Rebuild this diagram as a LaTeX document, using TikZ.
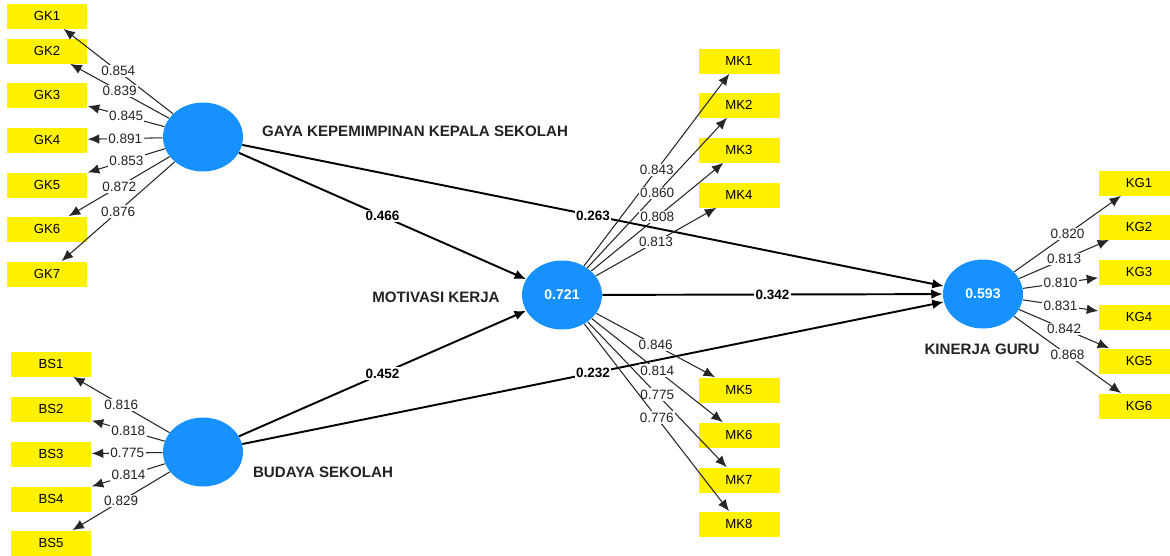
\documentclass[tikz,border=0pt]{standalone}
\usepackage{fontspec}
\setmainfont{Liberation Sans}
\usetikzlibrary{shapes.geometric,arrows.meta}
\definecolor{lvblue}{RGB}{22,145,255}
\definecolor{txtgray}{RGB}{35,35,35}
\begin{document}
\begin{tikzpicture}[x=0.02cm,y=-0.02cm,>={Latex[length=6.5pt,width=5.5pt]},
  lv/.style={ellipse,fill=lvblue,minimum width=1.6cm,minimum height=1.38cm,inner sep=0pt,text=white,font=\fontsize{8}{9}\selectfont\bfseries},
  ind/.style={rectangle,fill=yellow,minimum width=1.62cm,minimum height=0.5cm,inner sep=0pt,font=\fontsize{7.5}{9}\selectfont},
  ldg/.style={->,draw=black!85,line width=0.6pt},
  coef/.style={->,line width=1.1pt},
  wt/.style={fill=white,inner sep=0.8pt,text=txtgray,font=\fontsize{7.7}{9}\selectfont},
  bwt/.style={fill=white,inner sep=0.8pt,font=\fontsize{7.7}{9}\selectfont\bfseries},
  lvname/.style={text=txtgray,font=\fontsize{8.6}{10}\selectfont\bfseries}]
\useasboundingbox (0,0) rectangle (1170,555);

\node (gk) at (203,137)[lv]{};
\node (bs) at (203,452)[lv]{};
\node (mk) at (562,295)[lv]{0.721};
\node (kg) at (983,294)[lv]{0.593};

\node at (415,131)[lvname]{GAYA KEPEMIMPINAN KEPALA SEKOLAH};
\node at (436,297)[lvname]{MOTIVASI KERJA};
\node at (323,472)[lvname]{BUDAYA SEKOLAH};
\node at (982,349)[lvname]{KINERJA GURU};

\node (gk1) at (47,16)[ind]{GK1};
\node (gk2) at (47,51)[ind]{GK2};
\node (gk3) at (47,95)[ind]{GK3};
\node (gk4) at (47,140)[ind]{GK4};
\node (gk5) at (47,185)[ind]{GK5};
\node (gk6) at (47,229)[ind]{GK6};
\node (gk7) at (47,274)[ind]{GK7};

\node (bs1) at (51,364)[ind]{BS1};
\node (bs2) at (51,409)[ind]{BS2};
\node (bs3) at (51,454)[ind]{BS3};
\node (bs4) at (51,499)[ind]{BS4};
\node (bs5) at (51,543)[ind]{BS5};

\node (mk1) at (739,61)[ind]{MK1};
\node (mk2) at (739,105)[ind]{MK2};
\node (mk3) at (739,150)[ind]{MK3};
\node (mk4) at (739,195)[ind]{MK4};
\node (mk5) at (739,390)[ind]{MK5};
\node (mk6) at (739,435)[ind]{MK6};
\node (mk7) at (739,480)[ind]{MK7};
\node (mk8) at (739,524)[ind]{MK8};

\node (kg1) at (1139,183)[ind]{KG1};
\node (kg2) at (1139,227)[ind]{KG2};
\node (kg3) at (1139,272)[ind]{KG3};
\node (kg4) at (1139,317)[ind]{KG4};
\node (kg5) at (1139,361)[ind]{KG5};
\node (kg6) at (1139,406)[ind]{KG6};

\draw[coef] (gk)--node[bwt]{0.466}(mk);
\draw[coef] (gk)--node[bwt]{0.263}(kg);
\draw[coef] (mk)--node[bwt]{0.342}(kg);
\draw[coef] (bs)--node[bwt]{0.452}(mk);
\draw[coef] (bs)--node[bwt]{0.232}(kg);

\draw[ldg] (gk)--node[wt]{0.854}(gk1);
\draw[ldg] (gk)--node[wt]{0.839}(gk2);
\draw[ldg] (gk)--node[wt]{0.845}(gk3);
\draw[ldg] (gk)--node[wt]{0.891}(gk4);
\draw[ldg] (gk)--node[wt]{0.853}(gk5);
\draw[ldg] (gk)--node[wt]{0.872}(gk6);
\draw[ldg] (gk)--node[wt]{0.876}(gk7);

\draw[ldg] (bs)--node[wt]{0.816}(bs1);
\draw[ldg] (bs)--node[wt]{0.818}(bs2);
\draw[ldg] (bs)--node[wt]{0.775}(bs3);
\draw[ldg] (bs)--node[wt]{0.814}(bs4);
\draw[ldg] (bs)--node[wt]{0.829}(bs5);

\draw[ldg] (mk)--node[wt]{0.843}(mk1);
\draw[ldg] (mk)--node[wt]{0.860}(mk2);
\draw[ldg] (mk)--node[wt]{0.808}(mk3);
\draw[ldg] (mk)--node[wt]{0.813}(mk4);
\draw[ldg] (mk)--node[wt]{0.846}(mk5);
\draw[ldg] (mk)--node[wt]{0.814}(mk6);
\draw[ldg] (mk)--node[wt]{0.775}(mk7);
\draw[ldg] (mk)--node[wt]{0.776}(mk8);

\draw[ldg] (kg)--node[wt]{0.820}(kg1);
\draw[ldg] (kg)--node[wt]{0.813}(kg2);
\draw[ldg] (kg)--node[wt]{0.810}(kg3);
\draw[ldg] (kg)--node[wt]{0.831}(kg4);
\draw[ldg] (kg)--node[wt]{0.842}(kg5);
\draw[ldg] (kg)--node[wt]{0.868}(kg6);
\end{tikzpicture}
\end{document}
